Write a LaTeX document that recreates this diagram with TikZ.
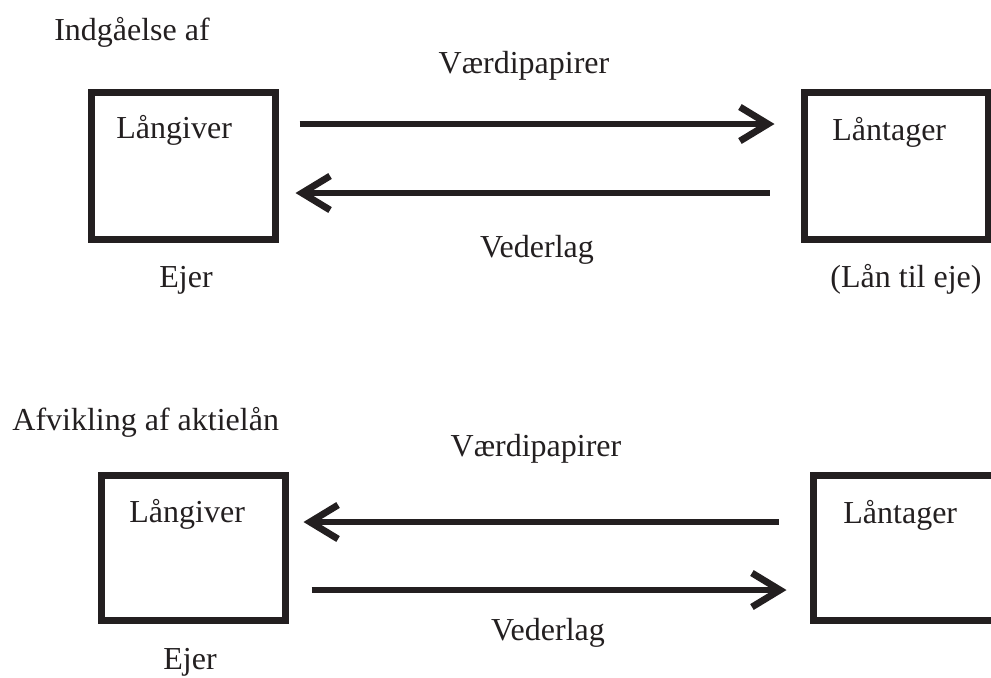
\documentclass[tikz,border=0pt]{standalone}
\usepackage{fontspec}
\setmainfont{Liberation Serif}
\usetikzlibrary{arrows.meta}
\definecolor{ink}{RGB}{35,31,32}
\begin{document}
\begin{tikzpicture}[x=0.5pt,y=-0.5pt,
  every node/.style={text=ink,font=\fontsize{16pt}{19pt}\selectfont,inner sep=0pt},
  lbl/.style={anchor=base},
  party/.style={draw=ink,line width=3.5pt,minimum width=92pt,minimum height=73.5pt,inner sep=0pt},
  flow/.style={draw=ink,line width=3.25pt,
    -{Straight Barb[sharp,length=14pt,width=17pt,line width=3.4pt]}}]
  \useasboundingbox (0,0) rectangle (991,677);
  \clip (0,0) rectangle (991,677);

  % Entering into the loan
  \node[lbl] (t1) at (132,40) {Indgåelse af};
  \node[party] (lgA) at (183.5,165.5) {};
  \node[party] (ltA) at (896,165.5) {};
  \node[lbl,anchor=base west] (lgAt) at (116,138) {Långiver};
  \node[lbl,anchor=base west] (ltAt) at (832,140) {Låntager};
  \node[lbl] (ejA) at (186,287) {Ejer};
  \node[lbl] (eje) at (906,287) {(Lån til eje)};
  \draw[flow,shorten <=10.25pt,shorten >=13pt]
    ([yshift=20.75pt]lgA.east) -- ([yshift=20.75pt]ltA.west);
  \draw[flow,shorten <=15.5pt,shorten >=8.25pt]
    ([yshift=-13.75pt]ltA.west) -- ([yshift=-13.75pt]lgA.east);
  \node[lbl] (vpA) at (524,73) {Værdipapirer};
  \node[lbl] (vdA) at (537,257) {Vederlag};

  % Settlement of the share loan
  \node[lbl,anchor=base west] (t2) at (12,430) {Afvikling af aktielån};
  \node[party,minimum height=72.5pt] (lgB) at (193.5,547.5) {};
  \node[party,minimum height=72.5pt] (ltB) at (905.5,547.5) {};
  \node[lbl,anchor=base west] (lgBt) at (129,522) {Långiver};
  \node[lbl,anchor=base west] (ltBt) at (843,523) {Låntager};
  \node[lbl] (ejB) at (190,669) {Ejer};
  \draw[flow,shorten <=15.75pt,shorten >=7.25pt]
    ([yshift=12.75pt]ltB.west) -- ([yshift=12.75pt]lgB.east);
  \draw[flow,shorten <=11.25pt,shorten >=11.75pt]
    ([yshift=-21.25pt]lgB.east) -- ([yshift=-21.25pt]ltB.west);
  \node[lbl] (vpB) at (536,456) {Værdipapirer};
  \node[lbl] (vdB) at (548,640) {Vederlag};
\end{tikzpicture}
\end{document}
